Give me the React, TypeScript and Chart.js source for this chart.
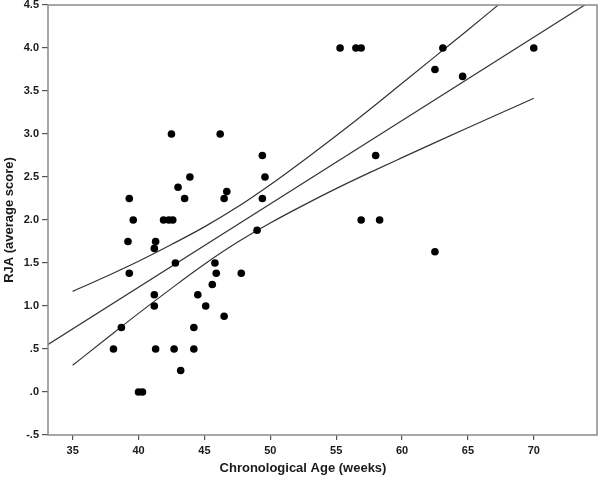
import React, { useEffect, useRef } from "react";
import { Chart, registerables } from "chart.js";

Chart.register(...registerables);

// Observed data: chronological age (weeks) vs RJA average score
const ages = [42.5, 46.2, 49.4, 49.6, 43.9, 43.0, 46.7, 39.3, 43.5, 46.5, 49.4, 39.6, 41.9, 42.3, 42.6, 39.2, 41.3, 41.2, 49.0, 42.8, 45.8, 39.3, 45.9, 47.8, 45.6, 41.2, 44.5, 41.2, 45.1, 46.5, 38.7, 44.2, 38.1, 41.3, 42.7, 44.2, 43.2, 40.0, 40.3, 55.3, 56.5, 56.9, 63.1, 70.0, 62.5, 64.6, 58.0, 56.9, 58.3, 62.5];
const scores = [3.0, 3.0, 2.75, 2.5, 2.5, 2.38, 2.33, 2.25, 2.25, 2.25, 2.25, 2.0, 2.0, 2.0, 2.0, 1.75, 1.75, 1.67, 1.88, 1.5, 1.5, 1.38, 1.38, 1.38, 1.25, 1.13, 1.13, 1.0, 1.0, 0.88, 0.75, 0.75, 0.5, 0.5, 0.5, 0.5, 0.25, 0.0, 0.0, 4.0, 4.0, 4.0, 4.0, 4.0, 3.75, 3.67, 2.75, 2.0, 2.0, 1.63];

// Fit line
const fitX = [33.1, 75.0];
const fitY = [0.55, 4.61];

// Confidence band curves
const bandX = [35, 37.5, 40, 42.5, 45, 47.5, 50, 52.5, 55, 57.5, 60, 62.5, 65, 67.5, 70];
const upperY = [1.17, 1.34, 1.52, 1.715, 1.92, 2.15, 2.41, 2.69, 2.98, 3.28, 3.59, 3.90, 4.21, 4.525, 4.84];
const lowerY = [0.31, 0.613, 0.914, 1.205, 1.485, 1.74, 1.965, 2.17, 2.365, 2.548, 2.725, 2.90, 3.073, 3.245, 3.415];

// Axis ticks
const xTicks = [35, 40, 45, 50, 55, 60, 65, 70];
const yTickLabels = ["-.5", ".0", ".5", "1.0", "1.5", "2.0", "2.5", "3.0", "3.5", "4.0", "4.5"];

const xTitle = "Chronological Age (weeks)";
const yTitle = "RJA (average score)";

const FONT = "'Liberation Sans', Arial, sans-serif";

export default function App() {
  const ref = useRef<HTMLCanvasElement | null>(null);
  useEffect(() => {
    if (!ref.current) return;
    const framePlugin = {
      id: "frameAndTitles",
      afterDraw(chart: any) {
        const { ctx, chartArea } = chart;
        ctx.save();
        ctx.strokeStyle = "#8a8a8a";
        ctx.lineWidth = 1.5;
        ctx.strokeRect(chartArea.left, chartArea.top, chartArea.right - chartArea.left, chartArea.bottom - chartArea.top);
        ctx.fillStyle = "#1a1a1a";
        ctx.font = `bold 13px ${FONT}`;
        ctx.textAlign = "center";
        ctx.textBaseline = "middle";
        ctx.fillText(xTitle, 303, 468);
        ctx.translate(9, (chartArea.top + chartArea.bottom) / 2);
        ctx.rotate(-Math.PI / 2);
        ctx.fillText(yTitle, 0, 0);
        ctx.restore();
      },
    };
    const lineStyle = {
      type: "line" as const,
      borderColor: "#333333",
      borderWidth: 1.2,
      pointRadius: 0,
      fill: false,
      cubicInterpolationMode: "monotone" as const,
    };
    const chart = new Chart(ref.current, {
      type: "scatter",
      data: {
        datasets: [
          {
            type: "scatter",
            data: ages.map((a, i) => ({ x: a, y: scores[i] })),
            backgroundColor: "#000000",
            borderWidth: 0,
            pointRadius: 3.8,
          },
          { ...lineStyle, data: fitX.map((x, i) => ({ x, y: fitY[i] })) },
          { ...lineStyle, data: bandX.map((x, i) => ({ x, y: upperY[i] })) },
          { ...lineStyle, data: bandX.map((x, i) => ({ x, y: lowerY[i] })) },
        ] as any,
      },
      plugins: [framePlugin],
      options: {
        responsive: false,
        animation: false,
        devicePixelRatio: 1,
        layout: { padding: { top: 5, right: 3, left: 0, bottom: 0 } },
        plugins: { legend: { display: false }, tooltip: { enabled: false }, title: { display: false } },
        scales: {
          x: {
            type: "linear",
            min: 33.13,
            max: 74.8,
            border: { display: false },
            grid: { drawOnChartArea: false, drawTicks: true, tickLength: 5, color: "#555", lineWidth: 1.2 },
            ticks: {
              includeBounds: false,
              stepSize: 5,
              padding: 4,
              color: "#1a1a1a",
              font: { family: FONT, size: 11, weight: "bold" },
              maxRotation: 0,
              callback: (v: any) => (xTicks.includes(Number(v)) ? String(v) : ""),
            },
            afterFit: (s: any) => {
              s.height = 49;
              s.paddingLeft = 0;
              s.paddingRight = 0;
            },
          },
          y: {
            type: "linear",
            min: -0.5,
            max: 4.5,
            border: { display: false },
            grid: { drawOnChartArea: false, drawTicks: true, tickLength: 6, color: "#555", lineWidth: 1.2 },
            ticks: {
              stepSize: 0.5,
              padding: 3,
              color: "#1a1a1a",
              font: { family: FONT, size: 11, weight: "bold" },
              callback: (v: any) => {
                const idx = Math.round((Number(v) + 0.5) / 0.5);
                return yTickLabels[idx] ?? "";
              },
            },
            afterFit: (s: any) => {
              s.width = 48;
              s.paddingTop = 0;
              s.paddingBottom = 0;
            },
          },
        },
      } as any,
    });
    return () => chart.destroy();
  }, []);
  return (
    <div style={{ position: "absolute", left: 0, top: 0, width: 601, height: 484, background: "#fff" }}>
      <canvas ref={ref} width={601} height={484} />
    </div>
  );
}
